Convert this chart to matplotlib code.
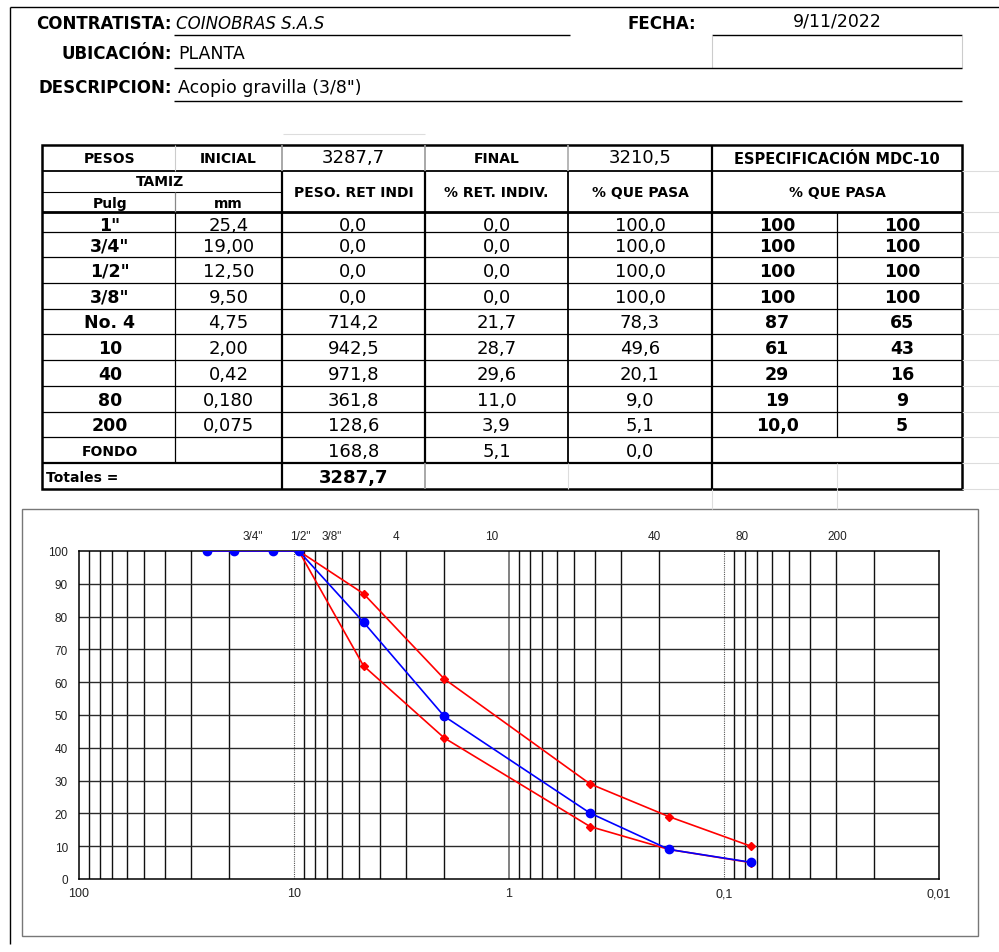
import matplotlib
matplotlib.use('Agg')
import matplotlib.pyplot as plt
from matplotlib.ticker import NullLocator, FixedLocator
from matplotlib.patches import Rectangle

# ---------------- data ----------------
CONTRATISTA = "COINOBRAS S.A.S"
UBICACION = "PLANTA"
DESCRIPCION = 'Acopio gravilla (3/8")'
FECHA = "9/11/2022"

PESO_INICIAL = 3287.7
PESO_FINAL = 3210.5
TOTAL_RET = 3287.7

SIEVE_NAMES = ['1"', '3/4"', '1/2"', '3/8"', 'No. 4', '10', '40', '80', '200']
SIEVE_MM = [25.4, 19.0, 12.5, 9.5, 4.75, 2.0, 0.42, 0.18, 0.075]
SIEVE_MM_DEC = [1, 2, 2, 2, 2, 2, 2, 3, 3]
PESO_RET = [0.0, 0.0, 0.0, 0.0, 714.2, 942.5, 971.8, 361.8, 128.6]
PCT_RET = [0.0, 0.0, 0.0, 0.0, 21.7, 28.7, 29.6, 11.0, 3.9]
PCT_PASA = [100.0, 100.0, 100.0, 100.0, 78.3, 49.6, 20.1, 9.0, 5.1]
SPEC_UPPER = [100, 100, 100, 100, 87, 61, 29, 19, 10.0]
SPEC_UPPER_DEC = [0, 0, 0, 0, 0, 0, 0, 0, 1]
SPEC_LOWER = [100, 100, 100, 100, 65, 43, 16, 9, 5]
FONDO_PESO = 168.8
FONDO_PCT_RET = 5.1
FONDO_PCT_PASA = 0.0

X_TICKS = [100, 10, 1, 0.1, 0.01]
X_TICK_LABELS = ['100', '10', '1', '0,1', '0,01']
Y_TICKS = [0, 10, 20, 30, 40, 50, 60, 70, 80, 90, 100]
TOP_LABELS = ['3/4"', '1/2"', '3/8"', '4', '10', '40', '80', '200']


def fmt(v, d):
    return f"{v:.{d}f}".replace('.', ',')


# ---------------- figure ----------------
W, H = 999, 953
fig = plt.figure(figsize=(W / 100, H / 100), dpi=100)
fig.patch.set_facecolor('white')
bg = fig.add_axes([0, 0, 1, 1])
bg.set_xlim(0, W)
bg.set_ylim(H, 0)
bg.axis('off')

TF = 'DejaVu Sans'
CF = 'Liberation Sans'


def T(x, y, s, size=12, weight='normal', ha='center', style='normal', color='black', family=TF):
    bg.text(x, y, s, fontsize=size, fontweight=weight, ha=ha, va='center',
            family=family, style=style, color=color)


def hl(y, x0, x1, lw=0.8, c='black'):
    bg.plot([x0, x1], [y, y], color=c, lw=lw, solid_capstyle='butt')


def vl(x, y0, y1, lw=0.8, c='black'):
    bg.plot([x, x], [y0, y1], color=c, lw=lw, solid_capstyle='butt')


# page frame lines
hl(8, 10, 999, lw=1.0)
vl(10, 8, 945, lw=1.0)

# ---------------- header ----------------
T(172, 24, "CONTRATISTA:", 12, 'bold', ha='right')
T(176, 24, CONTRATISTA, 12, ha='left', style='italic')
hl(36, 174, 570, lw=1.0)
T(662, 24, "FECHA:", 12, 'bold')
T(837, 22, FECHA, 12.5)
hl(36, 712, 962, lw=1.0)
vl(712, 36, 69, lw=0.8, c='#cccccc')
vl(962, 36, 69, lw=0.8, c='#cccccc')

T(172, 54, "UBICACIÓN:", 12, 'bold', ha='right')
T(178, 54, UBICACION, 12.5, ha='left')
hl(69, 174, 962, lw=1.0)

T(172, 88, "DESCRIPCION:", 12, 'bold', ha='right')
T(178, 88, DESCRIPCION, 12.5, ha='left')
hl(102, 174, 962, lw=1.0)

hl(135, 283, 425, lw=0.8, c='#dddddd')

# ---------------- table ----------------
COLS = [42, 175, 282, 425, 568, 712, 837, 962]
CC = [(COLS[i] + COLS[i + 1]) / 2 for i in range(7)]
ROW_EDGES = [213, 233, 258, 284, 310, 335, 361, 387, 413, 438, 464, 490]

# light spreadsheet gridlines at the right
for y in [172, 213] + ROW_EDGES[1:]:
    hl(y, 962, 999, lw=0.8, c='#dddddd')
vl(712, 490, 510, lw=0.8, c='#dddddd')
vl(837, 490, 510, lw=0.8, c='#dddddd')

# horizontal lines
hl(172, 42, 962, lw=1.3)
hl(193, 42, 282, lw=0.8)
hl(213, 42, 962, lw=2.0)
for y in ROW_EDGES[1:-2]:
    hl(y, 42, 962, lw=0.9)
hl(464, 42, 962, lw=1.6)

# vertical lines
vl(175, 146, 172, lw=0.8, c='#cccccc')
vl(175, 193, 213, lw=0.9, c='#888888')
vl(175, 213, 464, lw=0.9)
vl(282, 146, 172, lw=1.2, c='#999999')
vl(282, 172, 490, lw=1.6)
vl(425, 146, 172, lw=1.2, c='#999999')
vl(425, 172, 464, lw=1.6)
vl(425, 464, 490, lw=1.2, c='#999999')
vl(568, 146, 172, lw=1.2, c='#aaaaaa')
vl(568, 172, 464, lw=1.3)
vl(568, 464, 490, lw=0.8, c='#dddddd')
vl(712, 146, 490, lw=1.6)
vl(837, 213, 438, lw=0.9)
vl(837, 464, 490, lw=0.8, c='#dddddd')

# outer border
bg.add_patch(Rectangle((42, 146), 920, 344, fill=False, lw=1.8, ec='black'))

# header rows
T(110, 159, "PESOS", 10, 'bold')
T(228, 159, "INICIAL", 10, 'bold')
T(CC[2], 158, fmt(PESO_INICIAL, 1), 13)
T(CC[3], 159, "FINAL", 10, 'bold')
T(CC[4], 158, fmt(PESO_FINAL, 1), 13)
T(837, 159, "ESPECIFICACIÓN MDC-10", 10.5, 'bold')

T(160, 182, "TAMIZ", 10, 'bold')
T(110, 204, "Pulg", 10, 'bold')
T(228, 204, "mm", 10, 'bold')
T(CC[2], 193, "PESO. RET INDI", 10, 'bold')
T(CC[3], 193, "% RET. INDIV.", 10, 'bold')
T(CC[4], 193, "% QUE PASA", 10, 'bold')
T(837, 193, "% QUE PASA", 10, 'bold')

# data rows
for i in range(len(SIEVE_NAMES)):
    yc = (ROW_EDGES[i] + ROW_EDGES[i + 1]) / 2 + (3 if i == 0 else 1)
    T(110, yc, SIEVE_NAMES[i], 12.5, 'bold')
    T(CC[1], yc, fmt(SIEVE_MM[i], SIEVE_MM_DEC[i]), 13)
    T(CC[2], yc, fmt(PESO_RET[i], 1), 13)
    T(CC[3], yc, fmt(PCT_RET[i], 1), 13)
    T(CC[4], yc, fmt(PCT_PASA[i], 1), 13)
    T(777, yc, fmt(SPEC_UPPER[i], SPEC_UPPER_DEC[i]), 12.5, 'bold')
    T(902, yc, fmt(SPEC_LOWER[i], 0), 12.5, 'bold')

yc = (438 + 464) / 2 + 1
T(110, yc, "FONDO", 10, 'bold')
T(CC[2], yc, fmt(FONDO_PESO, 1), 13)
T(CC[3], yc, fmt(FONDO_PCT_RET, 1), 13)
T(CC[4], yc, fmt(FONDO_PCT_PASA, 1), 13)

yc = (464 + 490) / 2 + 1
T(46, yc, "Totales =", 10, 'bold', ha='left')
T(CC[2], yc, fmt(TOTAL_RET, 1), 13, 'bold')

# ---------------- chart ----------------
bg.add_patch(Rectangle((22, 510), 956, 427, fill=False, lw=1.0, ec='#777777'))

L, R, TOP, BOT = 79, 939, 552, 880
ax = fig.add_axes([L / W, 1 - BOT / H, (R - L) / W, (BOT - TOP) / H])
ax.set_xscale('log')
ax.set_xlim(100, 0.01)
ax.set_ylim(0, 100)

for d in [10, 1, 0.1, 0.01]:
    for k in range(2, 10):
        ax.axvline(k * d, color='#111111', lw=1.0, zorder=1)
ax.axvline(10, color='#555555', lw=0.8, ls=(0, (1, 1)), zorder=1)
ax.axvline(1, color='#777777', lw=1.3, zorder=1)
ax.axvline(0.1, color='#555555', lw=0.8, ls=(0, (1, 1)), zorder=1)
for y in Y_TICKS[1:-1]:
    ax.axhline(y, color='#2a2a2a', lw=1.0, zorder=1)

ax.plot(SIEVE_MM, SPEC_UPPER, color='red', lw=1.2, marker='D', ms=4, zorder=3)
ax.plot(SIEVE_MM, SPEC_LOWER, color='red', lw=1.2, marker='D', ms=4, zorder=3)
ax.plot(SIEVE_MM, PCT_PASA, color='blue', lw=1.2, marker='o', ms=6, zorder=4)

ax.xaxis.set_major_locator(FixedLocator(X_TICKS))
ax.xaxis.set_minor_locator(NullLocator())
ax.set_xticklabels(X_TICK_LABELS)
ax.set_yticks(Y_TICKS)
ax.tick_params(axis='both', which='both', length=0)
ax.tick_params(axis='x', pad=6, labelsize=9, labelcolor='#222222')
ax.tick_params(axis='y', pad=8, labelsize=8.5, labelcolor='#222222')
for lab in ax.get_xticklabels() + ax.get_yticklabels():
    lab.set_family(CF)
for s in ax.spines.values():
    s.set_color('black')
    s.set_linewidth(1.1)

TOP_LABEL_PX = [253, 300, 332, 396, 492, 654, 742, 837]
for lab, px in zip(TOP_LABELS, TOP_LABEL_PX):
    T(px, 537, lab, 8.5, family=CF, color='#222222')

fig.savefig('out.png', dpi=100)
